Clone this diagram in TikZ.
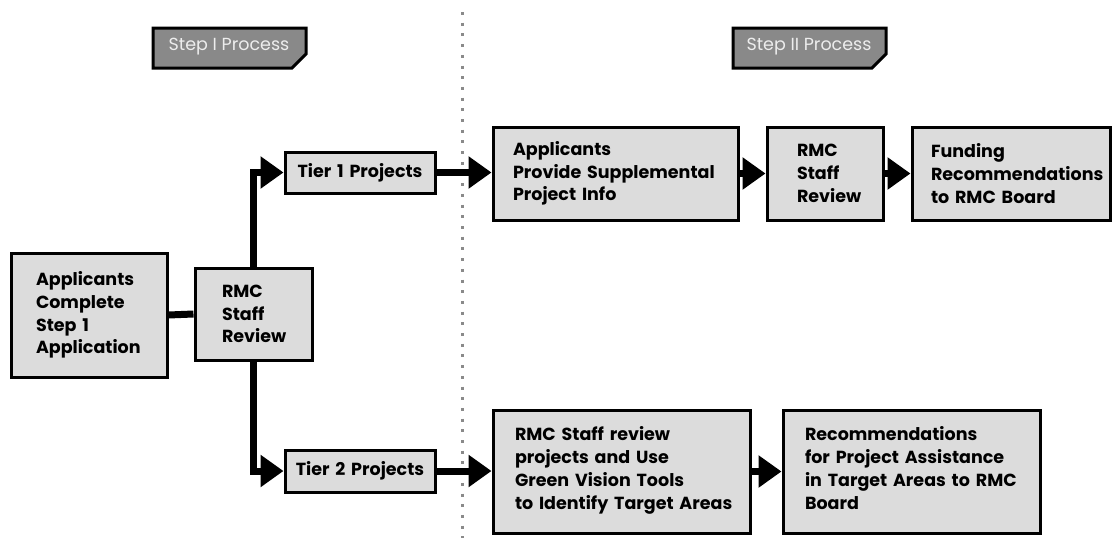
\documentclass[tikz,border=0pt]{standalone}
\usepackage{fontspec}
\setmainfont{Poppins}
\usetikzlibrary{arrows.meta,calc}
\definecolor{boxfill}{HTML}{DCDCDC}
\definecolor{tagfill}{HTML}{898989}
\definecolor{tagtext}{HTML}{EDEDED}
\definecolor{dotgray}{HTML}{8A8A8A}
\newcommand\nohyphs{\hyphenpenalty=10000\relax\exhyphenpenalty=10000\relax}
\tikzset{
  procbox/.style={draw=black, line width=3pt, fill=boxfill, rectangle, align=left,
    font=\fontsize{17.5}{22.8}\selectfont\bfseries,
    execute at begin node=\nohyphs,
    inner xsep=22pt, inner ysep=0pt, anchor=center},
  flow/.style={line width=7pt, -{Triangle[length=23pt 0 0,width=31pt 0 0]}},
  plainflow/.style={line width=7pt},
  tagtxt/.style={text=tagtext, font=\fontsize{17.5}{20}\selectfont, inner sep=0pt}
}
\begin{document}
\begin{tikzpicture}[x=1pt,y=-1pt]
\useasboundingbox (0,0) rectangle (1120,538);
% dotted divider
\draw[dotgray, line width=3pt, dash pattern=on 3pt off 7.7pt] (462,12) -- (462,538);
% tags
\draw[line width=3pt, fill=tagfill] (153,28) -- (306,28) -- (306,54) -- (292,68) -- (153,68) -- cycle;
\node[tagtxt] (tag1) at (229,47) {Step I Process};
\draw[line width=3pt, fill=tagfill] (733,28) -- (886,28) -- (886,54) -- (872,68) -- (733,68) -- cycle;
\node[tagtxt] (tag2) at (809,47) {Step II Process};
% boxes
\node[procbox, minimum width=156pt, minimum height=124pt, text width=106pt, inner xsep=25pt] (app) at (89,315) {Applicants\\Complete\\Step 1\\Application};
\node[procbox, minimum width=117pt, minimum height=92pt, text width=63pt, inner xsep=27pt] (rmc) at (253.5,314) {RMC\\Staff\\Review};
\node[procbox, minimum width=150pt, minimum height=41pt, text width=150pt, inner xsep=0pt, align=center] (t1) at (360,172.5) {Tier 1 Projects};
\node[procbox, minimum width=150pt, minimum height=42pt, text width=150pt, inner xsep=0pt, align=center] (t2) at (360,471) {Tier 2 Projects};
\node[procbox, minimum width=245pt, minimum height=93pt, text width=205pt, inner xsep=20pt] (supp) at (615.5,173.5) {Applicants\\Provide Supplemental\\Project Info};
\node[procbox, minimum width=116pt, minimum height=93pt, text width=56pt, inner xsep=30pt] (rmc2) at (825,173.5) {RMC\\Staff\\Review};
\node[procbox, minimum width=198pt, minimum height=93pt, text width=160pt, inner xsep=19pt] (fund) at (1011,173.5) {Funding\\Recommendations\\\mbox{to RMC Board}};
\node[procbox, minimum width=257pt, minimum height=123pt, text width=213pt, inner xsep=22pt] (green) at (621.5,471.5) {RMC Staff review\\projects and Use\\Green Vision Tools\\\mbox{to Identify Target Areas}\\[-16pt]\mbox{}};
\node[procbox, minimum width=257pt, minimum height=123pt, text width=213pt, inner xsep=22pt] (rec) at (911.5,471.5) {Recommendations\\\mbox{for Project Assistance}\\\mbox{in Target Areas to RMC}\\Board\\[-16pt]\mbox{}};
% connectors
\draw[plainflow] (app.east) -- (rmc.west);
\draw[flow] (rmc.north) |- (t1.west);
\draw[flow] (rmc.south) |- (t2.west);
\draw[flow] (t1.east) -- (t1.east -| supp.west);
\draw[flow] (supp.east) -- (supp.east -| rmc2.west);
\draw[flow] (rmc2.east) -- (rmc2.east -| fund.west);
\draw[flow] (t2.east) -- (t2.east -| green.west);
\draw[flow] (green.east) -- (green.east -| rec.west);
\end{tikzpicture}
\end{document}
